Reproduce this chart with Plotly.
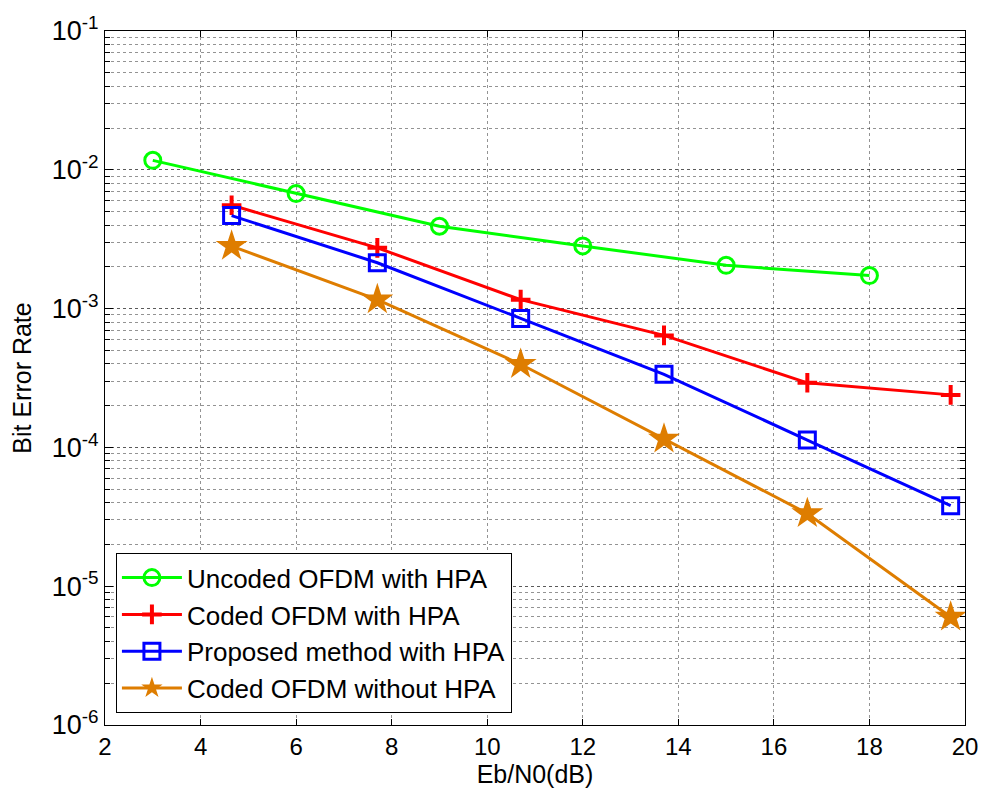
import plotly.graph_objects as go

# ---- data ----
x_uncoded = [3, 6, 9, 12, 15, 18]
ber_uncoded = [0.0117, 0.00674, 0.00392, 0.00283, 0.00205, 0.00173]

x_coded = [4.65, 7.7, 10.7, 13.7, 16.7, 19.7]
ber_coded = [0.00556, 0.00274, 0.00116, 0.000641, 0.000292, 0.000239]

x_proposed = [4.65, 7.7, 10.7, 13.7, 16.7, 19.7]
ber_proposed = [0.00468, 0.00214, 0.00085, 0.000336, 0.000113, 0.000038]

x_nohpa = [4.65, 7.7, 10.7, 13.7, 16.7, 19.7]
ber_nohpa = [0.00282, 0.00116, 0.000397, 0.000115, 0.0000334, 0.0000060]

names = ["Uncoded OFDM with HPA", "Coded OFDM with HPA",
         "Proposed method with HPA", "Coded OFDM without HPA"]

y_exps = [-6, -5, -4, -3, -2, -1]
x_ticks = [2, 4, 6, 8, 10, 12, 14, 16, 18, 20]

FONT = "Liberation Sans, Arial, sans-serif"

fig = go.Figure()
fig.add_trace(go.Scatter(
    x=x_uncoded, y=ber_uncoded, name=names[0], mode="lines+markers",
    line=dict(color="#00FF00", width=3),
    marker=dict(symbol="circle-open", size=16, line=dict(width=3, color="#00FF00"))))
fig.add_trace(go.Scatter(
    x=x_coded, y=ber_coded, name=names[1], mode="lines+markers",
    line=dict(color="#FF0000", width=3),
    marker=dict(symbol="cross-thin-open", size=14, line=dict(width=4, color="#FF0000"))))
fig.add_trace(go.Scatter(
    x=x_proposed, y=ber_proposed, name=names[2], mode="lines+markers",
    line=dict(color="#0000FF", width=3),
    marker=dict(symbol="square-open", size=16, line=dict(width=3, color="#0000FF"))))
fig.add_trace(go.Scatter(
    x=x_nohpa, y=ber_nohpa, name=names[3], mode="lines+markers",
    line=dict(color="#DE7D00", width=3),
    marker=dict(symbol="star", size=24, color="#DE7D00", line=dict(width=0))))

minor_vals = [k * 10.0 ** e for e in y_exps[:-1] for k in range(2, 10)]
grid_col = "rgba(40,40,40,0.5)"

fig.update_xaxes(
    range=[2, 20], tickvals=x_ticks, ticktext=[str(v) for v in x_ticks],
    showline=True, linecolor="black", linewidth=1.2, mirror="ticks",
    ticks="inside", ticklen=6, tickcolor="black",
    showgrid=True, gridcolor=grid_col, griddash="dot", gridwidth=1,
    zeroline=False,
    tickfont=dict(family=FONT, size=24, color="black"),
    title=dict(text="Eb/N0(dB)", font=dict(family=FONT, size=25, color="black"), standoff=6),
)
fig.update_yaxes(
    type="log", range=[-6, -1],
    tickvals=[10.0 ** e for e in y_exps],
    ticktext=["10<sup>%d</sup>" % e for e in y_exps],
    showline=True, linecolor="black", linewidth=1.2, mirror="ticks",
    ticks="inside", ticklen=8, tickcolor="black",
    showgrid=True, gridcolor="rgba(20,20,20,0.7)", griddash="dot", gridwidth=1,
    zeroline=False,
    minor=dict(tickmode="array", tickvals=minor_vals, ticks="inside", ticklen=5,
               tickcolor="black", showgrid=True, gridcolor=grid_col, griddash="dot"),
    tickfont=dict(family=FONT, size=27, color="black"),
    title=dict(text="Bit Error Rate", font=dict(family=FONT, size=25, color="black"), standoff=12),
)

fig.update_layout(
    width=990, height=802,
    margin=dict(l=105, r=17, t=30, b=77),
    paper_bgcolor="white", plot_bgcolor="white",
    font=dict(family=FONT, color="black"),
    legend=dict(x=0.0127, y=0.017, xanchor="left", yanchor="bottom",
                bgcolor="white", bordercolor="black", borderwidth=1,
                font=dict(family=FONT, size=26, color="black"),
                itemwidth=60, tracegroupgap=0),
)

fig.write_html("out.html")
